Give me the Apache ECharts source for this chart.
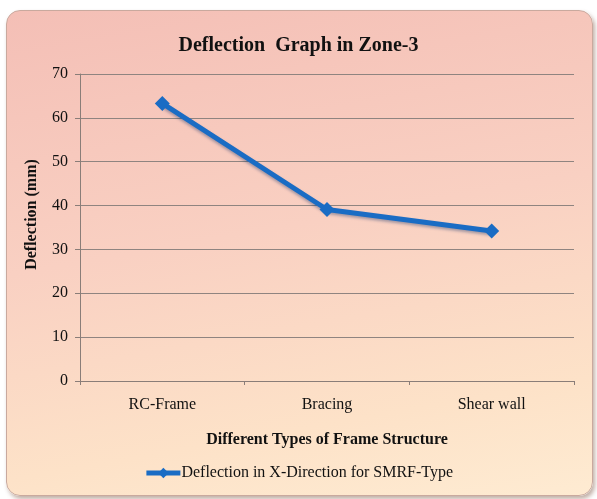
<!DOCTYPE html>
<html>
<head>
<meta charset="utf-8">
<script src="https://cdn.jsdelivr.net/npm/echarts@6/dist/echarts.min.js"></script>
<style>
  html, body { margin: 0; padding: 0; background: #ffffff; }
  #card {
    position: absolute; left: 6px; top: 10px; width: 585px; height: 484px;
    border-radius: 14px; border: 1px solid #c9a99e;
    background: linear-gradient(170deg, #f4bfb6 0%, #f9d0c2 45%, #fde2c8 80%, #feebd2 100%);
    box-shadow: 2px 3px 4px rgba(120, 80, 60, 0.45);
  }
  #main { position: absolute; left: 0; top: 0; width: 597px; height: 499px; }
</style>
</head>
<body>
<div id="card"></div>
<div id="main"></div>
<script>
// 数据
var categories = ['RC-Frame', 'Bracing', 'Shear wall'];
var deflection = [63.3, 39.1, 34.2];
var yTicks = [0, 10, 20, 30, 40, 50, 60, 70];

var myChart = echarts.init(document.getElementById('main'));
myChart.setOption({
    backgroundColor: 'transparent',
    animation: false,
    title: {
        text: 'Deflection  Graph in Zone-3',
        left: 'center',
        top: 31,
        textStyle: {
            fontFamily: 'Liberation Serif',
            fontWeight: 'bold',
            fontSize: 20,
            color: '#111'
        }
    },
    legend: {
        bottom: 13,
        left: 'center',
        itemWidth: 34,
        itemHeight: 13,
        itemGap: 0,
        lineStyle: { width: 5 },
        textStyle: {
            fontFamily: 'Liberation Serif',
            fontSize: 16,
            color: '#111',
            padding: [0, 0, 0, -4]
        },
        data: ['Deflection in X-Direction for SMRF-Type']
    },
    grid: { left: 80, right: 23, top: 74, bottom: 118 },
    xAxis: {
        type: 'category',
        data: categories,
        boundaryGap: true,
        name: 'Different Types of Frame Structure',
        nameLocation: 'middle',
        nameGap: 51,
        nameTextStyle: {
            fontFamily: 'Liberation Serif',
            fontWeight: 'bold',
            fontSize: 16,
            color: '#111'
        },
        axisLine: { lineStyle: { color: '#8a7d78', width: 1 } },
        axisTick: { show: true, length: 4, lineStyle: { color: '#8a7d78' } },
        axisLabel: {
            margin: 16,
            fontFamily: 'Liberation Serif',
            fontSize: 16,
            color: '#111'
        }
    },
    yAxis: {
        type: 'value',
        min: yTicks[0],
        max: yTicks[yTicks.length - 1],
        interval: 10,
        name: 'Deflection (mm)',
        nameLocation: 'middle',
        nameGap: 40,
        nameTextStyle: {
            fontFamily: 'Liberation Serif',
            fontWeight: 'bold',
            fontSize: 16,
            color: '#111',
            padding: [0, 0, 0, 26]
        },
        axisLine: { show: true, lineStyle: { color: '#8a7d78', width: 1 } },
        axisTick: { show: true, length: 5, lineStyle: { color: '#8a7d78' } },
        axisLabel: {
            margin: 12,
            fontFamily: 'Liberation Serif',
            fontSize: 16,
            color: '#111'
        },
        splitLine: { lineStyle: { color: '#8f8480', width: 1 } }
    },
    series: [{
        name: 'Deflection in X-Direction for SMRF-Type',
        type: 'line',
        data: deflection,
        symbol: 'diamond',
        symbolSize: 15,
        itemStyle: { color: '#1a6cc4' },
        lineStyle: {
            color: '#1a6cc4',
            width: 5,
            shadowColor: 'rgba(0,40,100,0.35)',
            shadowBlur: 3,
            shadowOffsetY: 2
        }
    }]
});
</script>
</body>
</html>
